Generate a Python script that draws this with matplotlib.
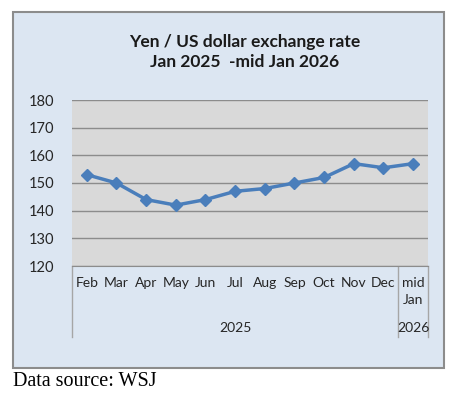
import matplotlib.pyplot as plt
from matplotlib.patches import Rectangle
from matplotlib.lines import Line2D

months = ['Feb', 'Mar', 'Apr', 'May', 'Jun', 'Jul', 'Aug', 'Sep', 'Oct', 'Nov', 'Dec', 'mid\nJan']
rates = [153, 150, 144, 142, 144, 147, 148, 150, 152, 157, 155.5, 157]
years = ['2025', '2026']
yticks = [120, 130, 140, 150, 160, 170, 180]

W, H = 456, 398
plt.rcParams['font.family'] = ['Lato', 'DejaVu Sans']

fig = plt.figure(figsize=(W / 100, H / 100), dpi=100)
fig.patch.set_facecolor('white')

def fx(px):
    return px / W

def fy(py):
    return 1 - py / H

# outer chart frame
fig.patches.append(Rectangle((fx(13), fy(368)), fx(444) - fx(13), fy(12) - fy(368),
                             transform=fig.transFigure, facecolor='#dce6f2',
                             edgecolor='#8c8c8c', linewidth=1.5, zorder=-5))

ax = fig.add_axes([fx(72), fy(266), fx(428) - fx(72), fy(100) - fy(266)])
ax.set_zorder(5)
ax.set_facecolor('#d9d9d9')
x = list(range(len(months)))
ax.plot(x, rates, color='#4a7ebb', linewidth=2.5, marker='D', markersize=6,
        zorder=3, clip_on=False)
ax.set_xlim(-0.5, len(months) - 0.5)
ax.set_ylim(120, 180)
ax.set_yticks(yticks)
ax.yaxis.grid(True, color='#8c8c8c', linewidth=1)
ax.set_axisbelow(True)
for s in ['top', 'right', 'left']:
    ax.spines[s].set_visible(False)
ax.spines['bottom'].set_color('#8c8c8c')
ax.tick_params(axis='y', length=0, pad=13, labelsize=10.5, labelcolor='#262626')
ax.set_xticks([])

# category labels in figure pixels
for i, m in enumerate(months):
    xp = 72 + (i + 0.5) * (356 / len(months))
    fig.text(fx(xp), fy(277), m, ha='center', va='top', fontsize=10, color='#262626',
             linespacing=1.5)

fig.text(fx(235), fy(328), years[0], ha='center', va='center', fontsize=10, color='#262626')
fig.text(fx(413), fy(328), years[1], ha='center', va='center', fontsize=10, color='#262626')

# group separators below the axis
for xp in [72, 398, 428]:
    fig.lines.append(Line2D([fx(xp), fx(xp)], [fy(266), fy(337)], transform=fig.transFigure,
                            color='#a6a6a6', linewidth=1))

fig.text(fx(245), fy(42), 'Yen / US dollar exchange rate', ha='center', va='center',
         fontsize=12.5, fontweight='bold', color='#1a1a1a')
fig.text(fx(245), fy(62), 'Jan 2025  -mid Jan 2026', ha='center', va='center',
         fontsize=12.5, fontweight='bold', color='#1a1a1a')

fig.text(fx(13), fy(381), 'Data source: WSJ', ha='left', va='center', fontsize=14.5,
         family=['Liberation Serif'], color='black')

fig.savefig('out.png', dpi=100)
